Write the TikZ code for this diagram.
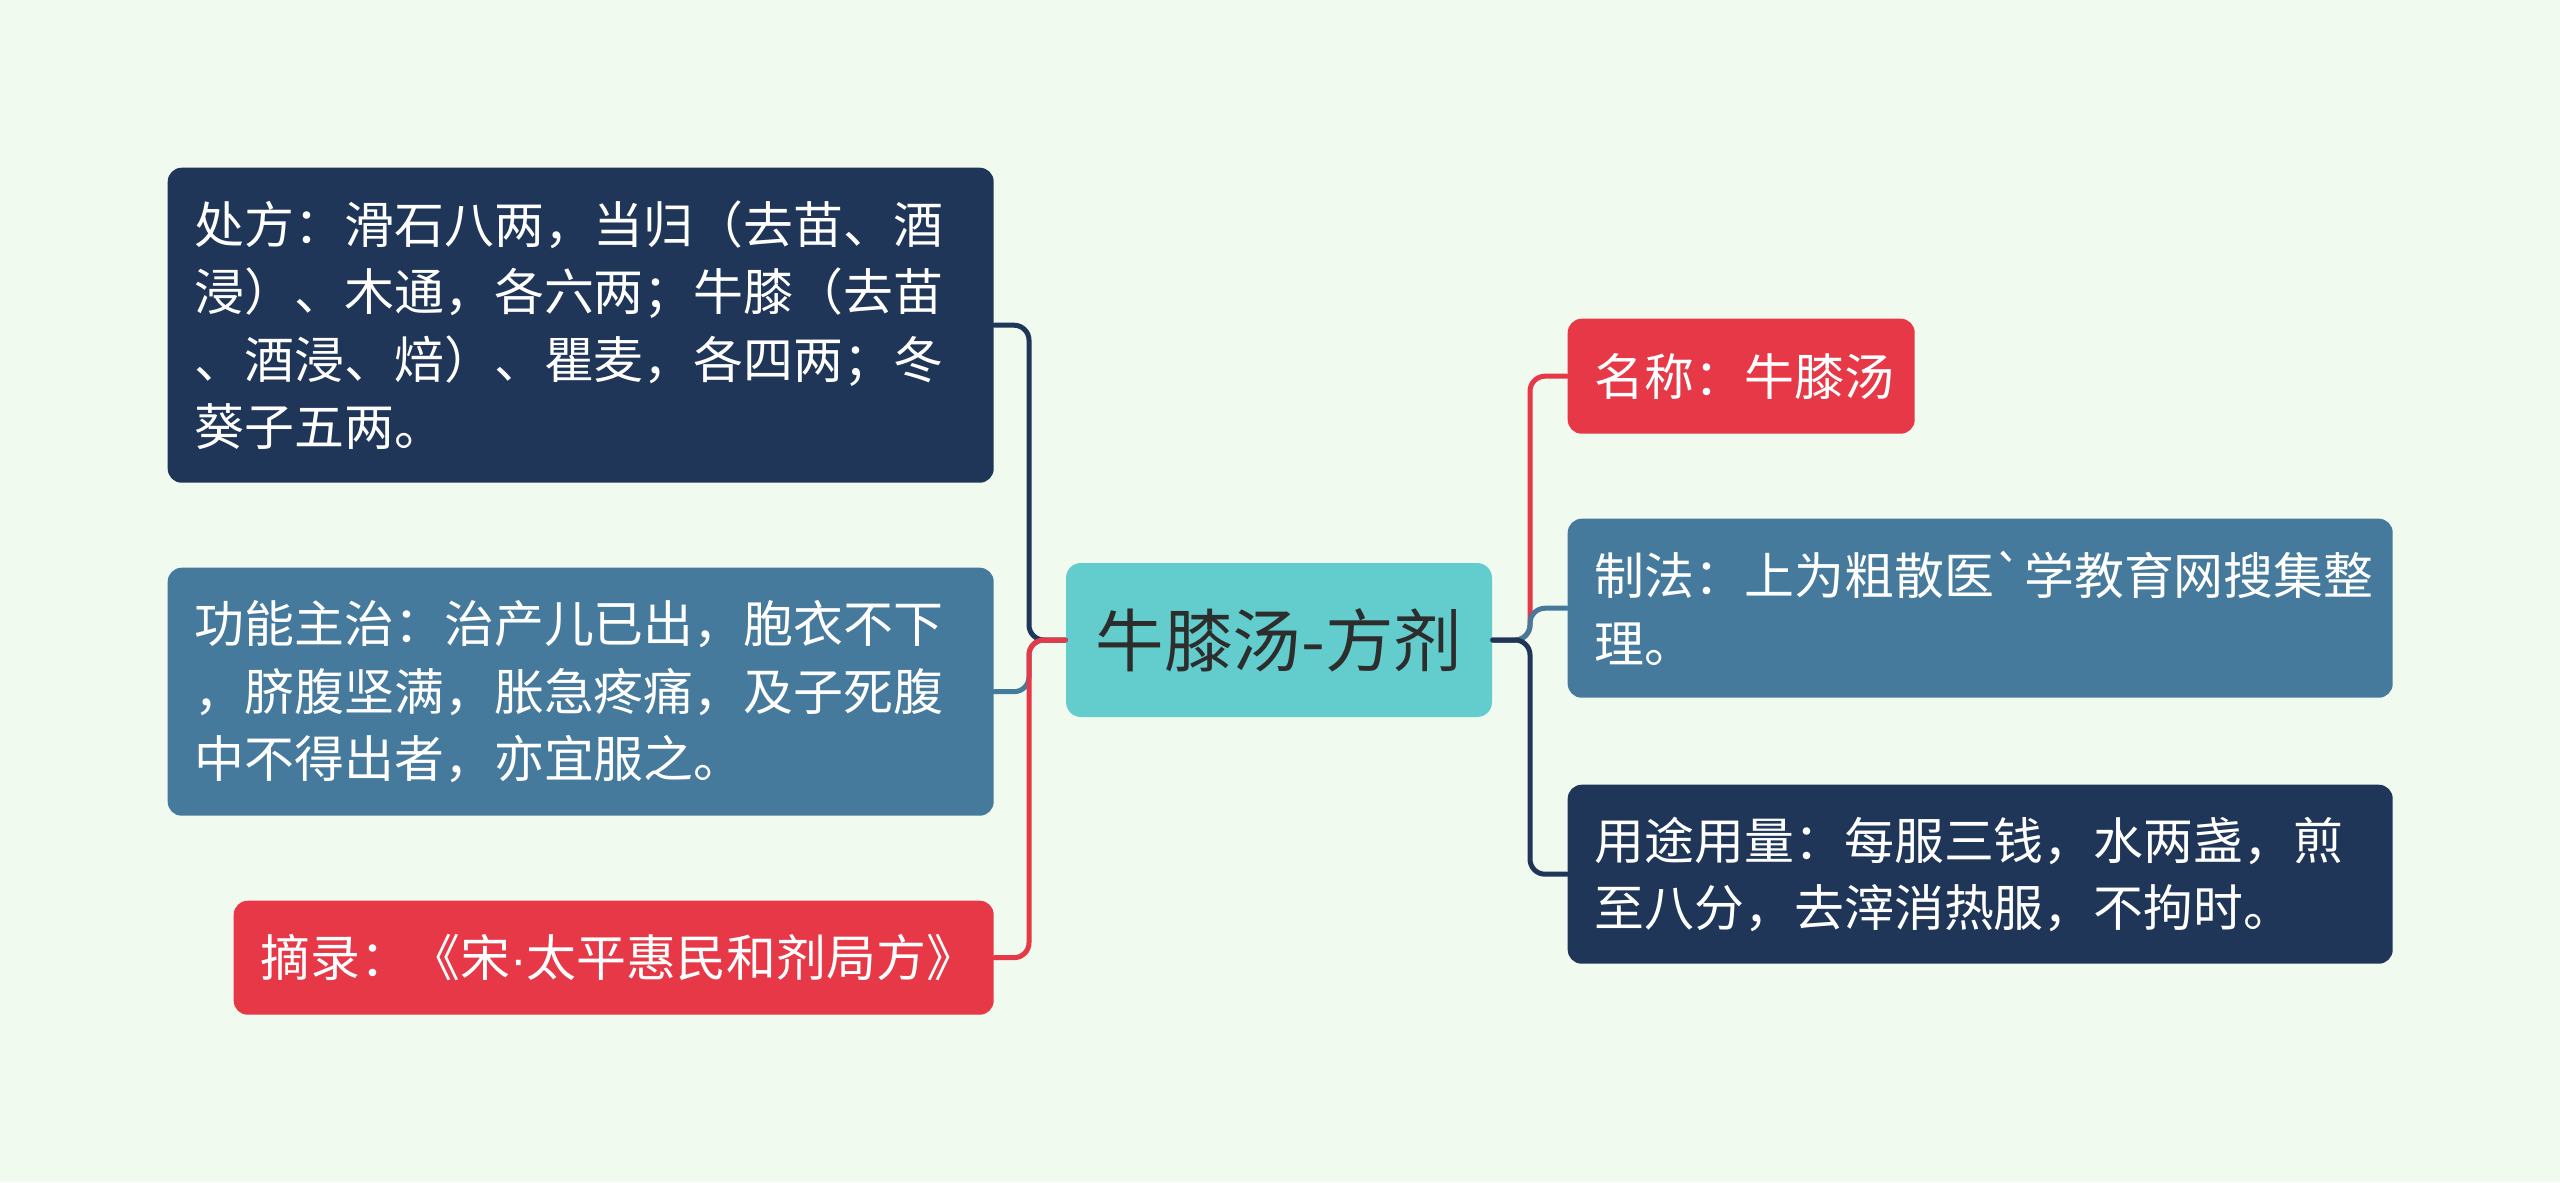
\documentclass[tikz,border=0pt]{standalone}
\usepackage{fontspec}
\newfontfamily\cjk{Noto Sans CJK SC}
\newfontfamily\latin{Liberation Sans}
\usepackage{tikz}

\definecolor{bgmint}{HTML}{F0FAEF}
\definecolor{navyblue}{HTML}{1F3658}
\definecolor{steelblue}{HTML}{467A9C}
\definecolor{rosered}{HTML}{E63846}
\definecolor{rootteal}{HTML}{63CDCE}
\definecolor{roottext}{HTML}{2D2D2D}

\begin{document}
\begin{tikzpicture}[
				line cap=round,
				line join=round,
				every node/.style={font=\cjk\fontsize{14.2pt}{19.1pt}\selectfont},
				leaf/.style={rounded corners=0.14cm, text=white, align=left,
					inner xsep=0.27cm, inner ysep=0cm, anchor=north west},
				link/.style={line width=0.05cm, rounded corners=0.15cm}
				]
				% Background
				\fill[bgmint] (0,0) rectangle (25.6,11.82);
				
				% Central topic
				\node[rounded corners=0.15cm, fill=rootteal, text=roottext,
					minimum width=4.26cm, minimum height=1.54cm,
					font=\cjk\fontsize{19.5pt}{24pt}\selectfont] (root) at (12.79,5.42) {牛膝汤-方剂};
				
				% Left branches
				\node[leaf, fill=navyblue, text width=7.72cm, minimum height=3.15cm] (chufang) at (1.67,10.15)
					{处方：滑石八两，当归（去苗、酒\\浸）、木通，各六两；牛膝（去苗\\、酒浸、焙）、瞿麦，各四两；冬\\葵子五两。};
				\node[leaf, fill=steelblue, text width=7.72cm, minimum height=2.48cm] (gongneng) at (1.67,6.15)
					{功能主治：治产儿已出，胞衣不下\\，脐腹坚满，胀急疼痛，及子死腹\\中不得出者，亦宜服之。};
				\node[leaf, fill=rosered, text width=7.06cm, minimum height=1.14cm] (zhailu) at (2.33,2.82)
					{摘录：《宋{\latin ·}太平惠民和剂局方》};
				
				% Right branches
				\node[leaf, fill=rosered, text width=2.93cm, minimum height=1.15cm] (mingcheng) at (15.67,8.64)
					{名称：牛膝汤};
				\node[leaf, fill=steelblue, text width=7.71cm, minimum height=1.79cm] (zhifa) at (15.67,6.64)
					{制法：上为粗散医\symbol{96}学教育网搜集整\\理。};
				\node[leaf, fill=navyblue, text width=7.71cm, minimum height=1.79cm] (yongtu) at (15.67,3.98)
					{用途用量：每服三钱，水两盏，煎\\至八分，去滓消热服，不拘时。};
				
				% Trunks
				\coordinate (ltrunk) at (10.29,5.42);
				\coordinate (rtrunk) at (15.30,5.42);
				
				% Connectors
				\draw[link, navyblue] (root.west) -- (ltrunk) |- (chufang.east);
				\draw[link, steelblue] (root.west) -- (ltrunk) |- (gongneng.east);
				\draw[link, rosered] (root.west) -- (ltrunk) |- (zhailu.east);
				\draw[link, rosered] (root.east) -- (rtrunk) |- (mingcheng.west);
				\draw[link, steelblue] (root.east) -- (rtrunk) |- (zhifa.west);
				\draw[link, navyblue] (root.east) -- (rtrunk) |- (yongtu.west);
			\end{tikzpicture}
\end{document}
